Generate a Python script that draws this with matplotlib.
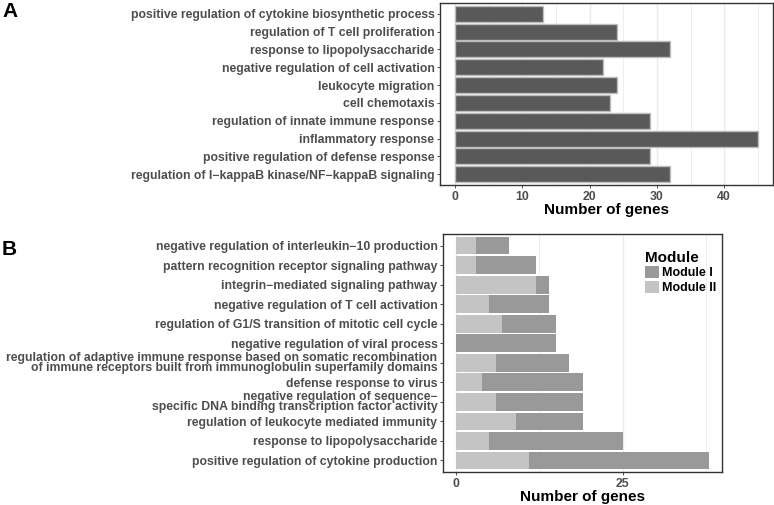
import matplotlib
matplotlib.use("Agg")
import matplotlib.pyplot as plt
from matplotlib.patches import Patch
import numpy as np

plt.rcParams['font.family'] = ['Liberation Sans', 'DejaVu Sans']

# Panel A data (top to bottom)
terms_a = [
    "positive regulation of cytokine biosynthetic process",
    "regulation of T cell proliferation",
    "response to lipopolysaccharide",
    "negative regulation of cell activation",
    "leukocyte migration",
    "cell chemotaxis",
    "regulation of innate immune response",
    "inflammatory response",
    "positive regulation of defense response",
    "regulation of I\u2212kappaB kinase/NF\u2212kappaB signaling",
]
genes_a = [13, 24, 32, 22, 24, 23, 29, 45, 29, 32]
ticks_a = [0, 10, 20, 30, 40]

# Panel B data (top to bottom)
terms_b = [
    "negative regulation of interleukin\u221210 production",
    "pattern recognition receptor signaling pathway",
    "integrin\u2212mediated signaling pathway",
    "negative regulation of T cell activation",
    "regulation of G1/S transition of mitotic cell cycle",
    "negative regulation of viral process",
    "regulation of adaptive immune response based on somatic recombination\nof immune receptors built from immunoglobulin superfamily domains",
    "defense response to virus",
    "negative regulation of sequence\u2212\nspecific DNA binding transcription factor activity",
    "regulation of leukocyte mediated immunity",
    "response to lipopolysaccharide",
    "positive regulation of cytokine production",
]
module_ii = [3, 3, 12, 5, 7, 0, 6, 4, 6, 9, 5, 11]
module_i = [5, 9, 2, 9, 8, 15, 11, 15, 13, 10, 20, 27]
ticks_b = [0, 25]
modules = ["Module I", "Module II"]

W, H = 774, 505
fig = plt.figure(figsize=(W / 100, H / 100), dpi=100)

def pax(l, t, r, b):
    return fig.add_axes([l / W, 1 - b / H, (r - l) / W, (b - t) / H])

tick_col = '#4d4d4d'
grid_col = '#ebebeb'
col_I = '#999999'
col_II = '#c4c4c4'
tfs = 8.8

def style(ax, xmax, major, minor):
    ax.set_xlim(-0.05 * xmax, xmax * 1.05)
    for v in major:
        ax.axvline(v, color=grid_col, lw=1.0, zorder=0)
    for v in minor:
        ax.axvline(v, color=grid_col, lw=0.6, zorder=0)
    for s in ax.spines.values():
        s.set_color('#333333')
        s.set_linewidth(1.0)
    ax.tick_params(axis='both', length=2.5, width=0.6, color='#333333',
                   labelcolor=tick_col, labelsize=tfs, pad=1.5)
    for lab in ax.get_xticklabels() + ax.get_yticklabels():
        lab.set_fontweight('bold')
    ax.set_xlabel("Number of genes", fontsize=11, fontweight='bold', labelpad=0)

# Panel A
axA = pax(440, 3, 773, 185)
n = len(terms_a)
ya = np.arange(n, 0, -1)
axA.barh(ya, genes_a, height=0.9, color='#595959', edgecolor='#bdbdbd', linewidth=1.0, zorder=2)
axA.set_ylim(0.4, n + 0.6)
axA.set_yticks(ya)
axA.set_yticklabels(terms_a)
axA.set_xticks(ticks_a)
style(axA, max(genes_a), ticks_a, [5, 15, 25, 35, 45])

# Panel B
axB = pax(443, 234, 722, 472)
m = len(terms_b)
yb = np.arange(m, 0, -1)
tot = [a + b for a, b in zip(module_i, module_ii)]
axB.barh(yb, module_ii, height=0.9, color=col_II, linewidth=0, zorder=2)
axB.barh(yb, module_i, left=module_ii, height=0.9, color=col_I, linewidth=0, zorder=2)
axB.set_ylim(0.4, m + 0.6)
axB.set_yticks(yb)
axB.set_yticklabels(terms_b, linespacing=0.8)
axB.set_xticks(ticks_b)
style(axB, max(tot), ticks_b, [12.5, 37.5])

handles = [Patch(facecolor=col_I, edgecolor='none'), Patch(facecolor=col_II, edgecolor='none')]
leg = axB.legend(handles, modules, title="Module", loc='upper left',
                 bbox_to_anchor=(645 / W, 1 - 251 / H), bbox_transform=fig.transFigure,
                 frameon=False, borderpad=0, borderaxespad=0, handlelength=1.1, handleheight=1.1,
                 handletextpad=0.3, labelspacing=0.1, alignment='left',
                 prop={'weight': 'bold', 'size': 9},
                 title_fontproperties={'weight': 'bold', 'size': 11})

fig.text(2 / W, 1 - 2 / H, "A", fontsize=15, fontweight='bold', va='top', ha='left')
fig.text(2 / W, 1 - 240 / H, "B", fontsize=15, fontweight='bold', va='top', ha='left')

fig.savefig("out.png", dpi=100)
